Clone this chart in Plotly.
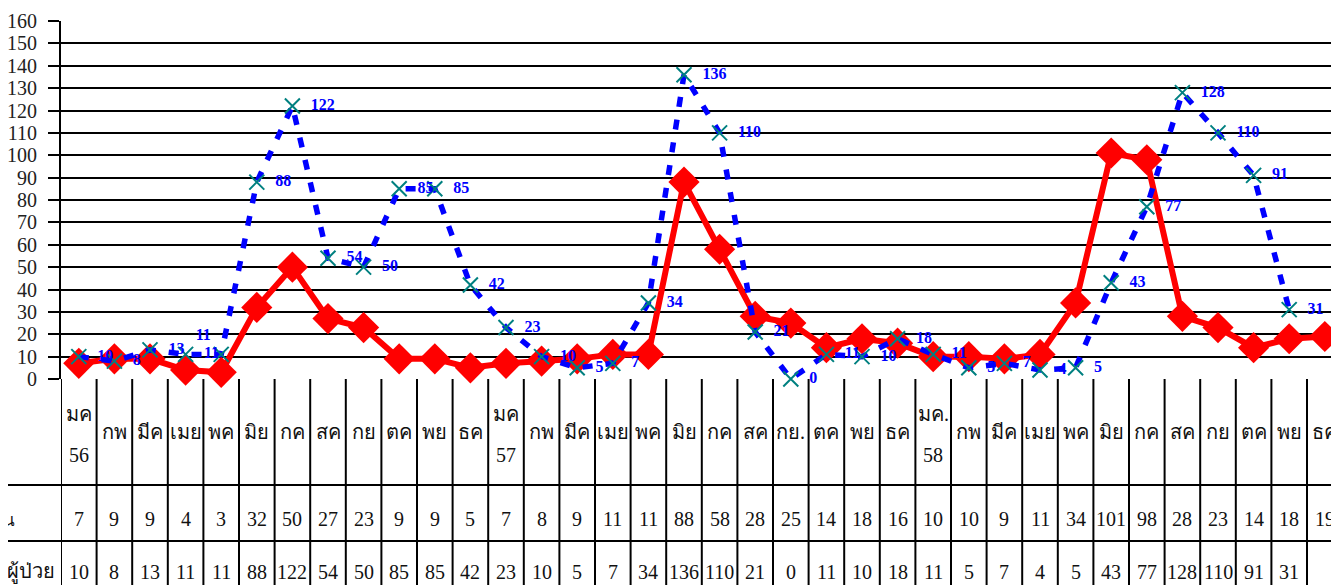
import plotly.graph_objects as go

months = ["มค", "กพ", "มีค", "เมย", "พค", "มิย", "กค", "สค", "กย", "ตค", "พย", "ธค",
          "มค", "กพ", "มีค", "เมย", "พค", "มิย", "กค", "สค", "กย.", "ตค", "พย", "ธค",
          "มค.", "กพ", "มีค", "เมย", "พค", "มิย", "กค", "สค", "กย", "ตค", "พย", "ธค"]
years = ["56", "", "", "", "", "", "", "", "", "", "", "",
         "57", "", "", "", "", "", "", "", "", "", "", "",
         "58", "", "", "", "", "", "", "", "", "", "", ""]
median_vals = [7, 9, 9, 4, 3, 32, 50, 27, 23, 9, 9, 5,
               7, 8, 9, 11, 11, 88, 58, 28, 25, 14, 18, 16,
               10, 10, 9, 11, 34, 101, 98, 28, 23, 14, 18, 19]
patient_vals = [10, 8, 13, 11, 11, 88, 122, 54, 50, 85, 85, 42,
                23, 10, 5, 7, 34, 136, 110, 21, 0, 11, 10, 18,
                11, 5, 7, 4, 5, 43, 77, 128, 110, 91, 31]
row_labels = ["ค่ามัธยฐาน", "จำนวนผู้ป่วย"]
y_ticks = list(range(0, 161, 10))

OFF = 8  # default page body margin
W, H = 1339 - OFF, 585 - OFF
L, T = 61 - OFF, 21 - OFF
B = H - (379 - OFF)
plot_h = H - T - B
plot_w = W - L
col_w = 35.6
x_max = -0.5 + plot_w / col_w

def py(px):
    """page pixel y (from top) -> paper y"""
    return (H - B - (px - OFF)) / plot_h

def pxx(px):
    """page pixel x -> paper x"""
    return (px - OFF - L) / plot_w

xs = list(range(len(months)))
serif = "Liberation Serif, Times New Roman, serif"

fig = go.Figure()
fig.add_trace(go.Scatter(
    x=xs, y=median_vals, mode="lines+markers",
    line=dict(color="#ff0000", width=6),
    marker=dict(symbol="diamond", size=24, color="#ff0000"),
    showlegend=False, hoverinfo="skip", cliponaxis=False))

positions = ["middle right"] * len(patient_vals)
positions[4] = "top left"
labels = ["  " + str(v) for v in patient_vals]
labels[4] = str(patient_vals[4])
fig.add_trace(go.Scatter(
    x=xs[:len(patient_vals)], y=patient_vals, mode="lines+markers+text",
    line=dict(color="#0000ff", width=5.5, dash="10px,13px"),
    marker=dict(symbol="x-thin", size=15, line=dict(color="#008080", width=2), color="#008080"),
    text=labels, textposition=positions,
    textfont=dict(family=serif, size=16, color="#0000ff", weight="bold"),
    showlegend=False, hoverinfo="skip", cliponaxis=False))

shapes = []
for i in range(len(months) + 1):
    shapes.append(dict(type="line", xref="x", yref="paper", x0=i - 0.5, x1=i - 0.5,
                       y0=py(600), y1=0, line=dict(color="black", width=2)))
for pxy in [485, 541]:
    shapes.append(dict(type="line", xref="paper", yref="paper", x0=pxx(0), x1=1,
                       y0=py(pxy), y1=py(pxy), line=dict(color="black", width=2)))

annotations = []
cell_font = dict(family=serif, size=20, color="#111")
for i, m in enumerate(months):
    if years[i]:
        annotations.append(dict(x=i, y=py(414), xref="x", yref="paper", text=m, showarrow=False,
                                font=cell_font, xanchor="center", yanchor="middle"))
        annotations.append(dict(x=i, y=py(455), xref="x", yref="paper", text=years[i],
                                showarrow=False, font=cell_font, xanchor="center", yanchor="middle"))
    else:
        annotations.append(dict(x=i, y=py(432), xref="x", yref="paper", text=m, showarrow=False,
                                font=cell_font, xanchor="center", yanchor="middle"))
    annotations.append(dict(x=i, y=py(519), xref="x", yref="paper", text=str(median_vals[i]),
                            showarrow=False, font=cell_font, xanchor="center", yanchor="middle"))
    if i < len(patient_vals):
        annotations.append(dict(x=i, y=py(572), xref="x", yref="paper", text=str(patient_vals[i]),
                                showarrow=False, font=cell_font, xanchor="center", yanchor="middle"))
annotations.append(dict(x=pxx(17), y=py(521), xref="paper", yref="paper",
                        text=row_labels[0], showarrow=False, xanchor="right", yanchor="middle",
                        font=dict(family=serif, size=17, color="#111")))
annotations.append(dict(x=pxx(57), y=py(572), xref="paper", yref="paper",
                        text=row_labels[1], showarrow=False, xanchor="right", yanchor="middle",
                        font=dict(family=serif, size=20, color="#111")))

fig.update_layout(
    width=W, height=H, margin=dict(l=L, r=0, t=T, b=B, autoexpand=False),
    paper_bgcolor="white", plot_bgcolor="white",
    xaxis=dict(range=[-0.5, x_max], showgrid=False, zeroline=False, showticklabels=False,
               showline=False, ticks="", automargin=False),
    yaxis=dict(range=[0, 160], tickvals=y_ticks, showgrid=True, gridcolor="black", gridwidth=2,
               zeroline=False, showline=True, linecolor="black", linewidth=2,
               ticks="outside", ticklen=11, tickwidth=2, tickcolor="black",
               ticklabelstandoff=7, automargin=False,
               tickfont=dict(family=serif, size=20, color="#222")),
    shapes=shapes, annotations=annotations,
)
fig.write_html("out.html")
